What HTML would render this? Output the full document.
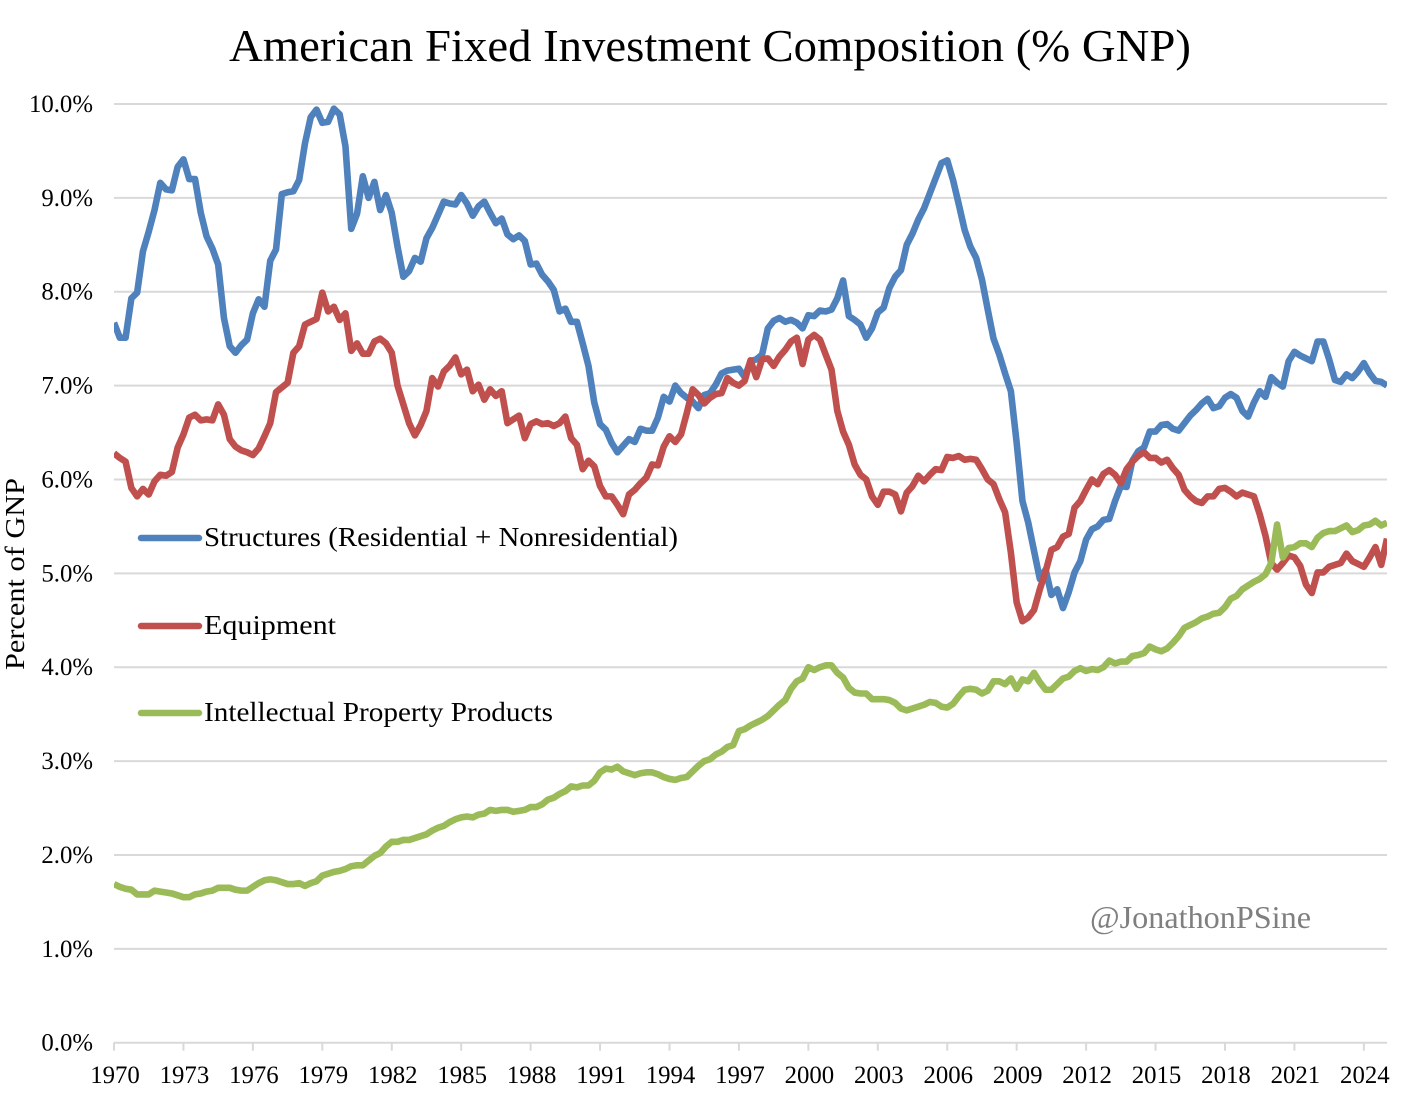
<!DOCTYPE html>
<html lang="en">
<head>
<meta charset="utf-8">
<title>American Fixed Investment Composition (% GNP)</title>
<style>
html,body{margin:0;padding:0;background:#fff;}
svg{display:block;}
text{font-family:"Liberation Serif",serif;fill:#000;}
</style>
</head>
<body>
<svg id="chart" xmlns="http://www.w3.org/2000/svg" width="1422" height="1118" viewBox="0 0 1422 1118">
  <rect width="1422" height="1118" fill="#ffffff"/>
  <defs><clipPath id="plot-clip"><rect x="114" y="60" width="1273" height="1000"/></clipPath></defs>
  <text x="710" y="61" text-anchor="middle" font-size="46" textLength="962" lengthAdjust="spacingAndGlyphs">American Fixed Investment Composition (% GNP)</text>
  <text transform="translate(24,574) rotate(-90)" text-anchor="middle" font-size="27" textLength="192" lengthAdjust="spacingAndGlyphs">Percent of GNP</text>
  <g id="grid"></g>
  <g id="axes"></g>
  <g id="series" clip-path="url(#plot-clip)"></g>
  <g>
    <line x1="141" y1="538" x2="199" y2="538" stroke="#4f81bd" stroke-width="6.5" stroke-linecap="round"/>
    <text x="204" y="546" font-size="27" textLength="474" lengthAdjust="spacingAndGlyphs">Structures (Residential + Nonresidential)</text>
    <line x1="141" y1="626" x2="199" y2="626" stroke="#c0504d" stroke-width="6.5" stroke-linecap="round"/>
    <text x="204" y="634" font-size="27" textLength="132" lengthAdjust="spacingAndGlyphs">Equipment</text>
    <line x1="141" y1="713" x2="199" y2="713" stroke="#9bbb59" stroke-width="6.5" stroke-linecap="round"/>
    <text x="204" y="721" font-size="27" textLength="349" lengthAdjust="spacingAndGlyphs">Intellectual Property Products</text>
  </g>
  <text x="1090" y="928" font-size="32" style="fill:#7f7f7f" textLength="221" lengthAdjust="spacingAndGlyphs">@JonathonPSine</text>
</svg>
<script>
const startYear = 1970;
const endYear = 2025;
const xTickLabels = [1970,1973,1976,1979,1982,1985,1988,1991,1994,1997,2000,2003,2006,2009,2012,2015,2018,2021,2024];
const yTickValues = [0,1,2,3,4,5,6,7,8,9,10];
const structures = [
7.67,7.51,7.51,7.93,7.99,8.43,8.64,8.87,9.16,9.09,
9.08,9.33,9.41,9.20,9.20,8.84,8.59,8.46,8.29,7.72,
7.42,7.35,7.43,7.49,7.77,7.92,7.84,8.33,8.45,9.04,
9.06,9.07,9.19,9.58,9.86,9.94,9.80,9.81,9.95,9.89,
9.55,8.67,8.83,9.23,9.00,9.17,8.87,9.03,8.84,8.48,
8.16,8.22,8.36,8.32,8.57,8.68,8.82,8.96,8.94,8.93,
9.03,8.94,8.81,8.91,8.96,8.84,8.73,8.78,8.61,8.56,
8.60,8.54,8.29,8.30,8.18,8.11,8.02,7.79,7.82,7.68,
7.68,7.45,7.21,6.82,6.59,6.53,6.39,6.29,6.36,6.43,
6.40,6.54,6.52,6.52,6.66,6.88,6.83,7.00,6.92,6.87,
6.83,6.76,6.90,6.92,7.01,7.13,7.16,7.17,7.18,7.09,
7.26,7.28,7.33,7.61,7.69,7.72,7.68,7.70,7.67,7.61,
7.75,7.74,7.80,7.79,7.81,7.93,8.12,7.74,7.70,7.65,
7.51,7.61,7.78,7.83,8.04,8.16,8.23,8.50,8.62,8.77,
8.89,9.05,9.21,9.37,9.40,9.19,8.93,8.66,8.48,8.36,
8.13,7.81,7.50,7.33,7.13,6.94,6.39,5.77,5.54,5.24,
4.94,5.04,4.77,4.83,4.63,4.80,5.01,5.13,5.36,5.47,
5.50,5.57,5.58,5.77,5.93,5.92,6.20,6.30,6.34,6.51,
6.51,6.58,6.59,6.54,6.52,6.60,6.68,6.74,6.81,6.86,
6.76,6.78,6.87,6.91,6.87,6.73,6.67,6.82,6.94,6.88,
7.09,7.03,6.99,7.26,7.36,7.32,7.29,7.26,7.47,7.47,
7.28,7.06,7.04,7.12,7.08,7.15,7.24,7.13,7.05,7.04,7.00];
const equipment = [
6.28,6.23,6.19,5.91,5.82,5.90,5.84,5.98,6.05,6.04,
6.08,6.34,6.48,6.66,6.69,6.63,6.64,6.63,6.80,6.69,
6.43,6.35,6.31,6.29,6.26,6.33,6.46,6.60,6.93,6.98,
7.03,7.35,7.42,7.65,7.68,7.71,7.99,7.79,7.84,7.70,
7.77,7.37,7.45,7.34,7.34,7.47,7.50,7.45,7.35,7.00,
6.80,6.60,6.47,6.58,6.73,7.08,6.99,7.15,7.21,7.30,
7.12,7.17,6.94,7.01,6.85,6.96,6.89,6.94,6.60,6.64,
6.68,6.44,6.59,6.62,6.59,6.60,6.57,6.60,6.67,6.44,
6.37,6.11,6.20,6.14,5.93,5.82,5.82,5.73,5.63,5.84,
5.89,5.96,6.02,6.16,6.15,6.35,6.46,6.40,6.48,6.71,
6.96,6.90,6.81,6.87,6.91,6.92,7.08,7.03,7.00,7.05,
7.27,7.09,7.28,7.29,7.21,7.31,7.38,7.47,7.51,7.23,
7.49,7.54,7.49,7.33,7.17,6.73,6.51,6.37,6.16,6.05,
6.00,5.82,5.73,5.87,5.87,5.84,5.66,5.86,5.93,6.04,
5.98,6.05,6.11,6.10,6.24,6.23,6.25,6.21,6.22,6.21,
6.11,6.00,5.95,5.79,5.65,5.22,4.69,4.49,4.53,4.61,
4.83,5.02,5.25,5.28,5.39,5.42,5.70,5.77,5.89,6.00,
5.95,6.06,6.10,6.05,5.96,6.11,6.19,6.25,6.29,6.23,
6.23,6.18,6.21,6.12,6.05,5.89,5.82,5.77,5.75,5.82,
5.82,5.90,5.91,5.87,5.82,5.86,5.84,5.82,5.63,5.40,
5.11,5.04,5.11,5.19,5.17,5.08,4.88,4.79,5.01,5.01,
5.07,5.09,5.11,5.21,5.13,5.10,5.07,5.17,5.28,5.09,5.37];
const ipProducts = [
1.69,1.66,1.64,1.63,1.58,1.58,1.58,1.62,1.61,1.60,
1.59,1.57,1.55,1.55,1.58,1.59,1.61,1.62,1.65,1.65,
1.65,1.63,1.62,1.62,1.66,1.70,1.73,1.74,1.73,1.71,
1.69,1.69,1.70,1.67,1.70,1.72,1.78,1.80,1.82,1.83,
1.85,1.88,1.89,1.89,1.94,1.99,2.02,2.09,2.14,2.14,
2.16,2.16,2.18,2.20,2.22,2.26,2.29,2.31,2.35,2.38,
2.40,2.41,2.40,2.43,2.44,2.48,2.47,2.48,2.48,2.46,
2.47,2.48,2.51,2.51,2.54,2.59,2.61,2.65,2.68,2.73,
2.72,2.74,2.74,2.79,2.88,2.92,2.91,2.94,2.89,2.87,
2.85,2.87,2.88,2.88,2.86,2.83,2.81,2.80,2.82,2.83,
2.89,2.95,3.00,3.02,3.07,3.10,3.15,3.17,3.32,3.34,
3.38,3.41,3.44,3.48,3.54,3.60,3.65,3.77,3.85,3.88,
4.00,3.97,4.00,4.02,4.02,3.94,3.89,3.78,3.73,3.72,
3.72,3.66,3.66,3.66,3.65,3.62,3.56,3.54,3.56,3.58,
3.60,3.63,3.62,3.58,3.57,3.61,3.69,3.76,3.77,3.76,
3.72,3.75,3.85,3.85,3.82,3.88,3.77,3.87,3.85,3.94,
3.84,3.76,3.76,3.82,3.88,3.90,3.96,3.99,3.96,3.98,
3.97,4.00,4.07,4.04,4.06,4.06,4.12,4.13,4.15,4.22,
4.19,4.17,4.20,4.26,4.33,4.42,4.45,4.48,4.52,4.54,
4.57,4.58,4.64,4.73,4.76,4.83,4.87,4.91,4.94,4.99,
5.11,5.52,5.17,5.27,5.28,5.32,5.32,5.28,5.38,5.43,
5.45,5.45,5.48,5.51,5.44,5.46,5.51,5.52,5.56,5.51,5.54];

const NS = 'http://www.w3.org/2000/svg';
const plotLeft = 114, plotRight = 1387, plotBottom = 1042.7, pxPerUnit = 93.87;
function xScale(year) { return plotLeft + (year - startYear) / (endYear - startYear) * (plotRight - plotLeft); }
function yScale(v) { return plotBottom - v * pxPerUnit; }
function make(tag, attrs) {
  const el = document.createElementNS(NS, tag);
  for (const k in attrs) el.setAttribute(k, attrs[k]);
  return el;
}
const gridG = document.getElementById('grid');
const axesG = document.getElementById('axes');
const seriesG = document.getElementById('series');

yTickValues.forEach(function (v) {
  const y = yScale(v);
  const line = make('line', {x1: plotLeft, x2: plotRight, y1: y, y2: y, stroke: '#d9d9d9', 'stroke-width': 2});
  
  
  gridG.appendChild(line);
  const label = make('text', {x: 93, y: y + 8, 'text-anchor': 'end', 'font-size': 24.8});
  label.textContent = v.toFixed(1) + '%';
  
  
  axesG.appendChild(label);
});

xTickLabels.forEach(function (yr) {
  const x = xScale(yr);
  const tick = make('line', {x1: x, x2: x, y1: plotBottom, y2: plotBottom + 8, stroke: '#d9d9d9', 'stroke-width': 2});
  
  
  axesG.appendChild(tick);
  const label = make('text', {x: x + 1, y: 1083, 'text-anchor': 'middle', 'font-size': 24.8});
  label.textContent = String(yr);
  
  
  axesG.appendChild(label);
});

function drawSeries(values, color, name) {
  const pts = values.map(function (v, i) {
    return xScale(startYear + i / 4).toFixed(2) + ',' + yScale(v).toFixed(2);
  }).join(' ');
  const line = make('polyline', {points: pts, fill: 'none', stroke: color, 'stroke-width': 6.6, 'stroke-linejoin': 'round', 'stroke-linecap': 'butt'});
  
  
  seriesG.appendChild(line);
}
drawSeries(structures, '#4f81bd', 'series-structures');
drawSeries(equipment, '#c0504d', 'series-equipment');
drawSeries(ipProducts, '#9bbb59', 'series-ip-products');
</script>
</body>
</html>
